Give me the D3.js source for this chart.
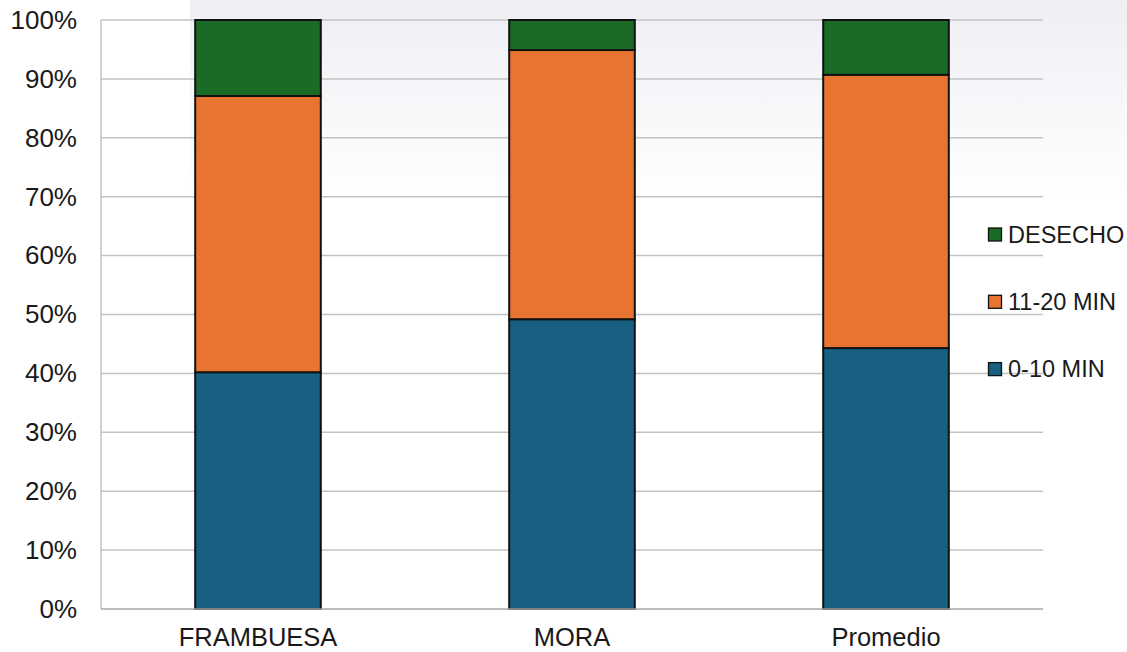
<!DOCTYPE html>
<html>
<head>
<meta charset="utf-8">
<script src="https://cdn.jsdelivr.net/npm/d3@7"></script>
<style>
  body { margin: 0; background: #ffffff; }
  svg { display: block; }
  svg text { font-family: "Liberation Sans", Arial, sans-serif; }
</style>
</head>
<body>
<svg id="chart"></svg>
<script>
// chart data
const categories = ["FRAMBUESA", "MORA", "Promedio"];
const seriesNames = ["0-10 MIN", "11-20 MIN", "DESECHO"];
const min0to10 = [40.2, 49.2, 44.3];
const min11to20 = [46.9, 45.7, 46.4];
const desecho = [12.9, 5.1, 9.3];
const yTicks = [0, 10, 20, 30, 40, 50, 60, 70, 80, 90, 100];

const width = 1127;
const height = 652;
const margin = {top: 20, right: 84, bottom: 43, left: 101};
const fontFam = "'Liberation Sans', Arial, sans-serif";

const svg = d3.select("#chart")
  .attr("width", width)
  .attr("height", height);

// faint backdrop like the photo behind the original chart
const defs = svg.append("defs");
const grad = defs.append("linearGradient")
  .attr("id", "bgfade")
  .attr("x1", 0).attr("y1", 0).attr("x2", 0).attr("y2", 1);
grad.append("stop").attr("offset", "0%").attr("stop-color", "#edeff3");
grad.append("stop").attr("offset", "100%").attr("stop-color", "#ffffff");
svg.append("rect")
  .attr("x", 190).attr("y", 0)
  .attr("width", width - 190).attr("height", 200)
  .attr("fill", "url(#bgfade)");

// table for stacking
const table = categories.map((c, i) => ({
  cat: c,
  "0-10 MIN": min0to10[i],
  "11-20 MIN": min11to20[i],
  "DESECHO": desecho[i]
}));
const stacked = d3.stack().keys(seriesNames)(table);

const color = d3.scaleOrdinal()
  .domain(seriesNames)
  .range(["#186081", "#e87432", "#1a6b26"]);

const xScale = d3.scaleBand()
  .domain(categories)
  .range([margin.left, width - margin.right])
  .paddingInner(0.6)
  .paddingOuter(0.3);

const yScale = d3.scaleLinear()
  .domain([0, 100])
  .range([height - margin.bottom, margin.top]);

// gridlines
svg.append("g")
  .selectAll("line")
  .data(yTicks.filter(d => d > 0))
  .enter()
  .append("line")
    .attr("x1", margin.left)
    .attr("x2", width - margin.right)
    .attr("y1", d => yScale(d))
    .attr("y2", d => yScale(d))
    .attr("stroke", "#c3c3c3")
    .attr("stroke-width", 1.5);

// left axis line
svg.append("line")
  .attr("x1", margin.left).attr("x2", margin.left)
  .attr("y1", yScale(100)).attr("y2", yScale(0))
  .attr("stroke", "#c3c3c3")
  .attr("stroke-width", 1.5);

// y axis labels
const yAxis = d3.axisLeft(yScale)
  .tickValues(yTicks)
  .tickFormat(d => d + "%")
  .tickSize(0)
  .tickPadding(24);
const yg = svg.append("g")
  .attr("transform", `translate(${margin.left},0)`)
  .call(yAxis)
  .attr("font-family", fontFam)
  .attr("font-size", 26);
yg.select(".domain").remove();
yg.selectAll("text").attr("fill", "#1a1a1a");

// bars
svg.append("g")
  .selectAll("g")
  .data(stacked)
  .enter()
  .append("g")
    .attr("fill", d => color(d.key))
  .selectAll("rect")
  .data(d => d)
  .enter()
  .append("rect")
    .attr("x", d => xScale(d.data.cat))
    .attr("y", d => yScale(d[1]))
    .attr("width", xScale.bandwidth())
    .attr("height", d => yScale(d[0]) - yScale(d[1]))
    .attr("stroke", "#111")
    .attr("stroke-width", 2);

// baseline
svg.append("line")
  .attr("x1", margin.left).attr("x2", width - margin.right)
  .attr("y1", yScale(0)).attr("y2", yScale(0))
  .attr("stroke", "#a6a6a6")
  .attr("stroke-width", 1.5);

// x axis labels
const xAxis = d3.axisBottom(xScale).tickSize(0).tickPadding(19);
const xg = svg.append("g")
  .attr("transform", `translate(0,${yScale(0)})`)
  .call(xAxis)
  .attr("font-family", fontFam)
  .attr("font-size", 25.5);
xg.select(".domain").remove();
xg.selectAll("text").attr("fill", "#1a1a1a");

// legend (top to bottom: DESECHO, 11-20 MIN, 0-10 MIN)
const legendItems = seriesNames.slice().reverse();
const legend = svg.append("g")
  .selectAll("g")
  .data(legendItems)
  .enter()
  .append("g")
    .attr("transform", (d, i) => `translate(988,${234.5 + i * 67.3})`);
legend.append("rect")
  .attr("x", 0.5).attr("y", -6.5)
  .attr("width", 13).attr("height", 13)
  .attr("fill", d => color(d))
  .attr("stroke", "#111")
  .attr("stroke-width", 1.3);
legend.append("text")
  .attr("x", 20)
  .attr("y", 0)
  .attr("dy", "0.35em")
  .attr("fill", "#1a1a1a")
  .attr("font-family", fontFam)
  .attr("font-size", 23.5)
  .text(d => d);
</script>
</body>
</html>
